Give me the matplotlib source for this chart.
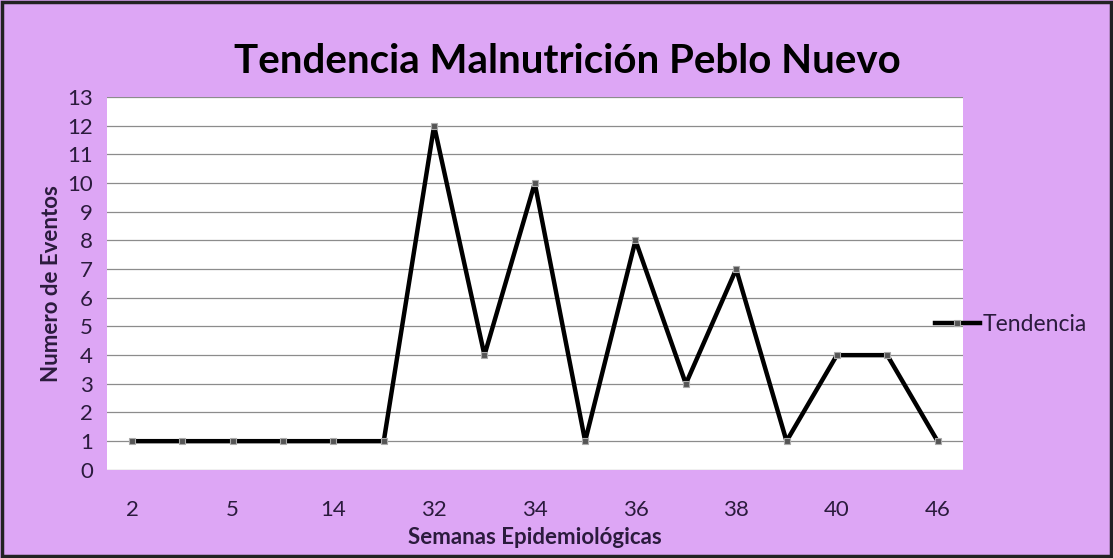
import matplotlib.pyplot as plt
from matplotlib.patches import Rectangle

semanas = ['2', '4', '5', '12', '14', '22', '32', '33', '34', '35', '36', '37', '38', '39', '40', '42', '46']
eventos = [1, 1, 1, 1, 1, 1, 12, 4, 10, 1, 8, 3, 7, 1, 4, 4, 1]

plt.rcParams['font.family'] = ['Lato', 'DejaVu Sans']
fondo = '#DDA6F5'
texto = '#2B1B3D'

fig = plt.figure(figsize=(11.13, 5.58), dpi=100)
fig.patch.set_facecolor(fondo)
fig.patches.append(Rectangle((0.002, 0.004), 0.996, 0.992, transform=fig.transFigure,
                             fill=False, edgecolor='#222222', linewidth=2.5))

ax = fig.add_axes([0.096, 0.158, 0.769, 0.668])
ax.set_facecolor('white')

x = list(range(len(semanas)))
ax.plot(x, eventos, color='black', linewidth=3.2, marker='s', markersize=4,
        markerfacecolor='#555555', markeredgecolor='#AAAAAA', markeredgewidth=0.8,
        label='Tendencia', zorder=3)

ax.set_xlim(-0.5, len(semanas) - 0.5)
ax.set_ylim(0, 13)
ax.set_yticks(range(0, 14))
ax.set_xticks(x[::2])
ax.set_xticklabels(semanas[::2])
ax.grid(axis='y', color='#8C8C8C', linewidth=0.9)
ax.set_axisbelow(True)
ax.tick_params(length=0, labelsize=16, colors=texto, pad=10)
ax.tick_params(axis='x', pad=22)
for s in ax.spines.values():
    s.set_visible(False)

ax.set_xlabel('Semanas Epidemiológicas', fontsize=16, fontweight='bold', color=texto, labelpad=5)
ax.set_ylabel('Numero de Eventos', fontsize=16, fontweight='bold', color=texto, labelpad=4)
fig.text(0.51, 0.89, 'Tendencia Malnutrición Peblo Nuevo', fontsize=29, fontweight='bold',
         color='black', ha='center', va='center')

ax.legend(loc='center left', bbox_to_anchor=(0.967, 0.389), frameon=False,
          fontsize=16.5, handlelength=2.0, handletextpad=0.1, borderpad=0, borderaxespad=0,
          labelcolor=texto)

plt.savefig('out.png', dpi=100, facecolor=fondo)
